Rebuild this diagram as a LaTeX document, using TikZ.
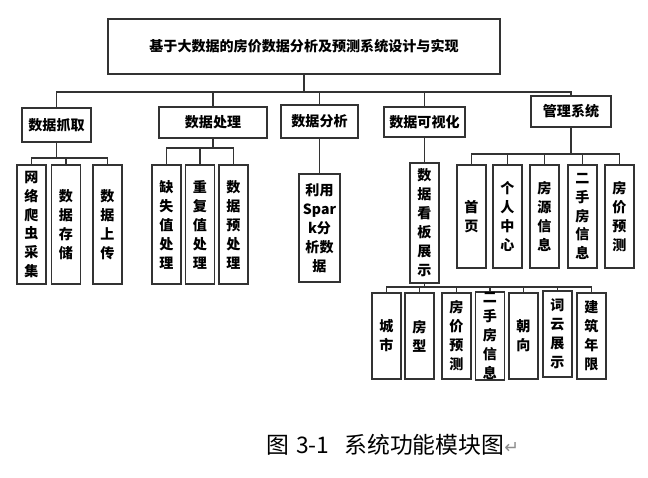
\documentclass[tikz,border=0pt]{standalone}
\usepackage{fontspec}
\newfontfamily\cjk{Noto Sans CJK SC}
\newfontfamily\markfont{DejaVu Sans}

\begin{document}
\begin{tikzpicture}[x=0.02cm, y=-0.02cm,
  sz/.style 2 args={minimum width=#1*0.02cm, minimum height=#2*0.02cm},
  box/.style={draw=black!80, line width=1.1pt, inner sep=0pt, align=center,
    font=\cjk\bfseries\fontsize{8}{10.8}\selectfont},
  leaf/.style={box, sz={29}{#1}},
  link/.style={draw=black!80, line width=0.7pt}]
\useasboundingbox (0,0) rectangle (648,477);

% top and second level
\node[box, sz={392}{55}] (sys) at (304,46.5) {基于大数据的房价数据分析及预测系统设计与实现};
\node[box, sz={69}{34}] (grab) at (56.5,125) {数据抓取};
\node[box, sz={108}{31}] (proc) at (213,122.5) {数据处理};
\node[box, sz={77}{33}] (ana) at (319.5,121.5) {数据分析};
\node[box, sz={81}{30}] (vis) at (424.5,122) {数据可视化};
\node[box, sz={80}{31}] (mgr) at (571,111.5) {管理系统};

\foreach \c in {grab,proc,ana,vis,mgr}
  \draw[link] (sys.south) -- ++(0,17) -| (\c.north);

% data grabbing
\node[leaf=119] (crawl) at (31.5,224.5) {网\\络\\爬\\虫\\采\\集};
\node[leaf=119] (store) at (66,224.5) {数\\据\\存\\储};
\node[leaf=119] (upload) at (107.5,224.5) {数\\据\\上\\传};
\foreach \c in {crawl,store,upload}
  \draw[link] (grab.south) -- ++(0,15) -| (\c.north);

% data processing
\node[leaf=119] (miss) at (166.5,224.5) {缺\\失\\值\\处\\理};
\node[leaf=119] (dup) at (200,224.5) {重\\复\\值\\处\\理};
\node[leaf=119] (pre) at (233.5,224.5) {数\\据\\预\\处\\理};
\foreach \c in {miss,dup,pre}
  \draw[link] (proc.south) -- ++(0,9) -| (\c.north);

% data analysis
\node[box, sz={41}{108}] (spark) at (319.5,228) {利用\\Spar\\k分\\析数\\据};
\draw[link] (ana.south) -- (spark.north);

% visualisation
\node[leaf=120] (board) at (424.5,223) {数\\据\\看\\板\\展\\示};
\draw[link] (vis.south) -- (board.north);

\node[leaf=86] (city) at (386.5,336) {城\\市};
\node[leaf=86] (type) at (419.5,336) {房\\型};
\node[leaf=86] (vpred) at (456.5,336) {房\\价\\预\\测};
\node[leaf=86] (vused) at (490,336) {二\\手\\房\\信\\息};
\node[leaf=86] (face) at (523.5,336) {朝\\向};
\node[leaf=86] (cloud) at (557.5,334) {词\\云\\展\\示};
\node[leaf=86] (year) at (591.5,336) {建\\筑\\年\\限};
\foreach \c in {city,type,vpred,vused,face,cloud,year}
  \draw[link] (board.south) -- ++(0,3) -| (\c.north);

% management
\node[leaf=103] (home) at (471.5,216.5) {首\\页};
\node[leaf=103] (user) at (507.5,216.5) {个\\人\\中\\心};
\node[leaf=103] (house) at (544.5,216.5) {房\\源\\信\\息};
\node[leaf=103] (used) at (582.5,216.5) {二\\手\\房\\信\\息};
\node[leaf=103] (pred) at (619.5,216.5) {房\\价\\预\\测};
\foreach \c in {home,user,house,used,pred}
  \draw[link] (mgr.south) -- ++(0,26) -| (\c.north);

\node[font=\cjk\fontsize{13}{15}\selectfont, anchor=west, inner sep=0pt] (cap) at (266,445)
  {图\hspace{4pt}3-1\hspace{8.5pt}系统功能模块图{\markfont\color{black!45}\fontsize{10}{12}\selectfont ↵}};
\end{tikzpicture}
\end{document}
